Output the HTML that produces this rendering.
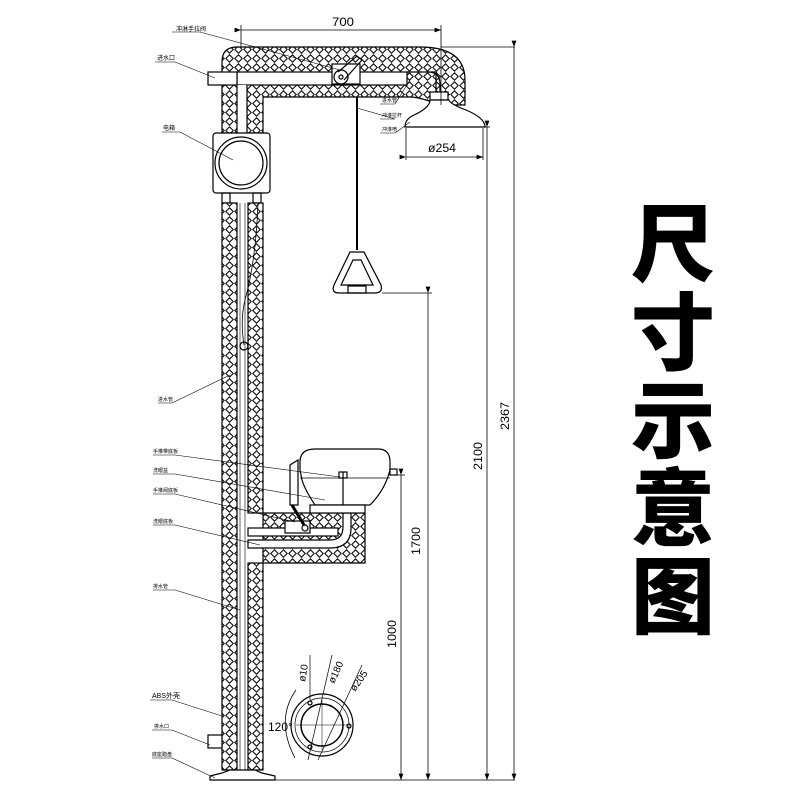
<!DOCTYPE html>
<html><head><meta charset="utf-8"><style>
html,body{margin:0;padding:0;background:#fff}
.t{position:absolute;left:628px;top:196px;width:90px;font:900 84px/88px "Noto Sans CJK SC",sans-serif;text-align:center;color:#000}
</style></head><body>
<div style="position:relative;width:800px;height:800px;overflow:hidden">
<svg width="800" height="800" viewBox="0 0 800 800" style="position:absolute;left:0;top:0">
<defs>
<pattern id="h" width="9" height="9" patternUnits="userSpaceOnUse">
<rect width="9" height="9" fill="#fff"/>
<path d="M4.5 0.8 L8.2 4.5 L4.5 8.2 L0.8 4.5Z" fill="none" stroke="#111" stroke-width="1.1"/>
</pattern>
<marker id="a" markerWidth="8" markerHeight="6" refX="8" refY="3" orient="auto"><path d="M0 0L8 3L0 6Z" fill="#000"/></marker>
</defs>
<g stroke="#000" stroke-width="1.2" fill="none" font-family="Liberation Sans, Noto Sans CJK SC, sans-serif">
<path d="M237 47 L420 47 Q465 47 465 80 L465 105 L440 105 Q420 97 410 97 L263 97 L263 133 L222 133 L222 62 Q222 47 237 47Z" fill="url(#h)"/>
<rect x="237" y="72" width="170" height="13" fill="#fff"/>
<rect x="208" y="72" width="29" height="13" fill="#fff"/>
<rect x="237" y="85" width="10" height="48" fill="#fff" stroke="none"/>
<line x1="237" y1="85" x2="237" y2="133"/><line x1="247" y1="85" x2="247" y2="133"/>
<path d="M407 72 L428 72 Q440 72 440 84 L440 95" /><path d="M428 72 L436 72 L436 95"/>
<rect x="332" y="64" width="28" height="20" fill="#fff"/>
<circle cx="341" cy="77" r="7" fill="#fff"/><circle cx="341" cy="77" r="2"/>
<path d="M338 72 L357 56 L362 60 L344 80"/>
<rect x="430" y="92" width="18" height="8" fill="#fff"/>
<path d="M430 100 Q430 108 412 116 Q405 120 405 127 L485 127 Q485 118 466 110 Q450 104 449 100Z" fill="#fff"/>
<rect x="213" y="133" width="57" height="60" rx="3" fill="#fff"/>
<circle cx="241" cy="163" r="26"/><circle cx="241" cy="163" r="22"/>
<rect x="222" y="193" width="8" height="10"/><rect x="253" y="193" width="8" height="10"/>
<rect x="222" y="203" width="15" height="567" fill="url(#h)"/>
<rect x="248" y="203" width="15" height="310" fill="url(#h)"/>
<rect x="248" y="563" width="15" height="207" fill="url(#h)"/>
<line x1="240" y1="203" x2="240" y2="770" stroke-width="0.6"/><line x1="245" y1="203" x2="245" y2="770" stroke-width="0.6"/>
<path d="M258 203 Q256 260 245 300 Q240 320 244 345" stroke-width="0.8"/>
<circle cx="244" cy="346" r="4"/>
<path d="M263 513 L365 513 L365 563 L263 563Z" fill="url(#h)"/>
<rect x="248" y="528" width="90" height="8" fill="#fff"/>
<path d="M248 540 L330 540 Q343 540 343 527 L343 513 L351 513 L351 528 Q351 548 330 548 L248 548Z" fill="#fff"/>
<rect x="285" y="521" width="25" height="12" fill="#fff"/><circle cx="305" cy="528" r="3"/>
<path d="M300 462 Q300 449 315 449 L378 449 Q390 449 390 462 L390 470 Q385 490 370 505 L315 505 Q305 490 302 480 L300 470Z" fill="#fff"/>
<line x1="300" y1="478" x2="390" y2="478" stroke-width="0.7"/>
<rect x="390" y="469" width="7" height="6"/>
<rect x="310" y="505" width="55" height="8" fill="#fff"/>
<line x1="343" y1="472" x2="343" y2="505"/><rect x="339" y="472" width="8" height="6"/>
<path d="M290 465 L298 460 L298 505 L290 505Z" fill="#fff"/><path d="M292 505 L304 525" stroke-width="3"/>
<line x1="357" y1="97" x2="357" y2="250" stroke-width="2"/>
<path d="M350 252 L364 252 L381 285 Q383 293 375 293 L339 293 Q331 293 334 285Z" fill="#fff"/>
<path d="M353 260 L361 260 L373 285 L341 285Z"/>
<rect x="348" y="286" width="18" height="7"/>
<path d="M210 780 L275 780 L275 776 L262 773 L255 770 L230 770 L222 773 L210 776Z" fill="#fff"/>
<rect x="208" y="735" width="14" height="13" fill="#fff"/>
<line x1="210" y1="780" x2="515" y2="780" stroke-width="0.8"/>
<circle cx="322" cy="725" r="31"/><circle cx="322" cy="725" r="27" stroke-width="0.7"/><circle cx="322" cy="725" r="21" stroke-width="1.5"/>
<circle cx="310" cy="703" r="2"/><circle cx="349" cy="726" r="2"/><circle cx="310" cy="747" r="2"/>
<path d="M296 725 L348 725 M322 700 L322 750" stroke-width="0.5"/>
<path d="M296 690 Q275 720 295 758" stroke-width="0.8"/>
<path d="M310 655 L310 700 M332 655 L308 760 M362 665 L318 760" stroke-width="0.7"/>
<g stroke-width="0.8">
<line x1="241" y1="30" x2="441" y2="30" marker-end="url(#a)" marker-start="url(#a)"/>
<line x1="241" y1="25" x2="241" y2="47"/><line x1="441" y1="25" x2="441" y2="105"/>
<line x1="406" y1="157" x2="483" y2="157" marker-end="url(#a)" marker-start="url(#a)"/>
<line x1="406" y1="128" x2="406" y2="160"/><line x1="483" y1="128" x2="483" y2="160"/>
<line x1="441" y1="47" x2="515" y2="47"/><line x1="485" y1="127" x2="490" y2="127"/>
<line x1="514" y1="47" x2="514" y2="780" marker-end="url(#a)" marker-start="url(#a)"/>
<line x1="487" y1="127" x2="487" y2="780" marker-end="url(#a)" marker-start="url(#a)"/>
<line x1="382" y1="293" x2="432" y2="293"/><line x1="428" y1="293" x2="428" y2="780" marker-end="url(#a)" marker-start="url(#a)"/>
<line x1="397" y1="475" x2="405" y2="475"/><line x1="401" y1="475" x2="401" y2="780" marker-end="url(#a)" marker-start="url(#a)"/>
</g>
<g stroke-width="0.6">
<path d="M172 32 L200 32 L340 70"/><path d="M155 62 L175 62 L215 78"/>
<path d="M380 104 L395 104 L410 80"/><path d="M380 119 L395 119 L357 108"/><path d="M380 133 L395 133 L410 122"/>
<path d="M162 132 L180 132 L233 160"/><path d="M158 403 L172 403 L230 375"/>
<path d="M153 455 L175 455 L340 477"/><path d="M153 474 L175 474 L325 500"/>
<path d="M153 494 L175 494 L295 522"/><path d="M153 525 L175 525 L260 545"/>
<path d="M153 590 L175 590 L240 610"/><path d="M150 700 L172 700 L222 716"/>
<path d="M152 730 L172 730 L210 745"/><path d="M152 758 L172 758 L215 778"/>
</g>
</g>
<g font-family="Liberation Sans, Noto Sans CJK SC, sans-serif" fill="#000">
<text x="332" y="26" font-size="12" transform="scale(1 1)" textLength="22" lengthAdjust="spacingAndGlyphs">700</text>
<text x="428" y="152" font-size="12" textLength="28" lengthAdjust="spacingAndGlyphs">ø254</text>
<text x="176" y="31" font-size="6">冲淋手拉阀</text>
<text x="157" y="60" font-size="6">进水口</text>
<text x="382" y="102" font-size="5">进水管</text><text x="382" y="117" font-size="5">冲淋拉杆</text><text x="382" y="131" font-size="5">冲淋喷</text>
<text x="163" y="130" font-size="6">电箱</text><text x="158" y="401" font-size="5">进水管</text>
<text x="153" y="453" font-size="5">手推带底板</text><text x="153" y="472" font-size="5">洗眼盆</text>
<text x="153" y="492" font-size="5">手推阀底板</text><text x="153" y="523" font-size="5">洗眼底板</text>
<text x="153" y="588" font-size="5">排水管</text><text x="152" y="698" font-size="7">ABS外壳</text>
<text x="154" y="728" font-size="5">排水口</text><text x="152" y="756" font-size="5">底座踏盘</text>
<text x="268" y="731" font-size="12">120°</text>
<text font-size="12" transform="translate(396,648) rotate(-90)" textLength="28" lengthAdjust="spacingAndGlyphs">1000</text>
<text font-size="12" transform="translate(420,555) rotate(-90)" textLength="28" lengthAdjust="spacingAndGlyphs">1700</text>
<text font-size="12" transform="translate(482,470) rotate(-90)" textLength="28" lengthAdjust="spacingAndGlyphs">2100</text>
<text font-size="12" transform="translate(509,430) rotate(-90)" textLength="28" lengthAdjust="spacingAndGlyphs">2367</text>
<text font-size="10" transform="translate(305,682) rotate(-80)">ø10</text>
<text font-size="10" transform="translate(334,684) rotate(-65)">ø180</text>
<text font-size="10" transform="translate(355,692) rotate(-55)">ø205</text>
</g>
</svg>
<div class="t">尺<br>寸<br>示<br>意<br>图</div>
</div>
</body></html>
